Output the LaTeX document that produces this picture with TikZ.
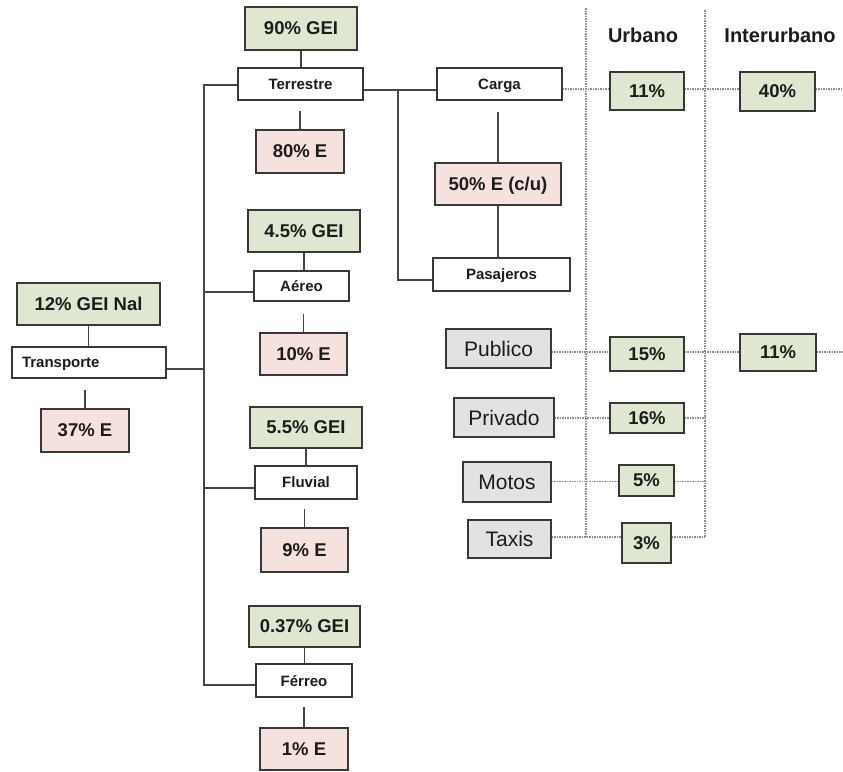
\documentclass[tikz,border=0pt]{standalone}
\usepackage{fontspec}
\setmainfont{Liberation Sans}
\usetikzlibrary{calc}

\definecolor{geifill}{HTML}{DFE7D1}
\definecolor{efill}{HTML}{F5E2DF}
\definecolor{modefill}{HTML}{E2E2E2}
\definecolor{boxline}{HTML}{383838}
\definecolor{linkline}{HTML}{454545}
\definecolor{dotline}{HTML}{8C8C8C}
\definecolor{ink}{HTML}{1C1C1C}

\tikzset{
  base/.style={draw=boxline, rectangle, inner sep=0pt, text=ink, text depth=0pt},
  geibox/.style={base, fill=geifill, line width=1.7pt, font=\fontsize{18.5}{20}\selectfont\bfseries},
  ebox/.style={base, fill=efill, line width=1.7pt, font=\fontsize{18.5}{20}\selectfont\bfseries},
  catbox/.style={base, fill=white, line width=1.3pt, font=\fontsize{15}{17}\selectfont\bfseries},
  modebox/.style={base, fill=modefill, line width=1.7pt, font=\fontsize{21}{23}\selectfont},
  pctbox/.style={base, fill=geifill, line width=1.7pt, font=\fontsize{18.5}{20}\selectfont\bfseries},
  header/.style={text=ink, inner sep=0pt, font=\fontsize{20}{22}\selectfont\bfseries},
  link/.style={draw=linkline, line width=1.5pt},
  dotlink/.style={draw=dotline, line width=1.4pt, dash pattern=on 1.6pt off 0.9pt},
  sz/.style n args={2}{minimum width=#1pt, minimum height=#2pt},
}

\begin{document}
\begin{tikzpicture}[x=1pt, y=-1pt]
\useasboundingbox (0,0) rectangle (843,771);

% --- root ---
\node[geibox, sz={143}{42}] (g0) at (88.5,304) {12\% GEI Nal};
\node[catbox, sz={154}{31}, text width=134pt, align=left, inner xsep=10pt] (transp) at (89,362.5) {Transporte};
\node[ebox, sz={88}{43}] (e0) at (85,430.5) {37\% E};

% --- modes ---
\node[geibox, sz={112}{43}] (g1) at (301,28.5) {90\% GEI};
\node[catbox, sz={125}{32}] (terr) at (300.5,84) {Terrestre};
\node[ebox, sz={88}{43}] (e1) at (300,151.5) {80\% E};

\node[geibox, sz={112}{42}] (g2) at (304,231) {4.5\% GEI};
\node[catbox, sz={95}{30}] (aereo) at (301.5,286) {Aéreo};
\node[ebox, sz={87}{42}] (e2) at (303.5,354) {10\% E};

\node[geibox, sz={112}{41}] (g3) at (306,427.5) {5.5\% GEI};
\node[catbox, sz={102}{33}] (fluv) at (306,482.5) {Fluvial};
\node[ebox, sz={87}{44}] (e3) at (304.5,550) {9\% E};

\node[geibox, sz={111}{41}] (g4) at (304.5,626.5) {0.37\% GEI};
\node[catbox, sz={96}{33}] (ferr) at (304,680.5) {Férreo};
\node[ebox, sz={88}{42}] (e4) at (304,749) {1\% E};

% --- land transport split ---
\node[catbox, sz={125}{32}] (carga) at (499.5,84) {Carga};
\node[ebox, sz={126}{42}] (e5) at (498,184) {50\% E (c/u)};
\node[catbox, sz={137}{33}] (pasaj) at (501.5,274.5) {Pasajeros};

% --- passenger modes ---
\node[modebox, sz={105}{39}] (pub) at (498.5,348.5) {Publico};
\node[modebox, sz={100}{39}] (priv) at (504,417.5) {Privado};
\node[modebox, sz={88}{40}] (moto) at (507,482) {Motos};
\node[modebox, sz={83}{38}] (taxi) at (509.5,539) {Taxis};

% --- urban / interurban shares ---
\node[header] (hu) at (643,35) {Urbano};
\node[header] (hi) at (780,35) {Interurbano};

\node[pctbox, sz={74}{38}] (u1) at (647,91) {11\%};
\node[pctbox, sz={75}{39}] (i1) at (777.5,91.5) {40\%};
\node[pctbox, sz={74}{34}] (u2) at (647,354) {15\%};
\node[pctbox, sz={76}{37}] (i2) at (778,352.5) {11\%};
\node[pctbox, sz={74}{30}] (u3) at (647,418) {16\%};
\node[pctbox, sz={55}{31}] (u4) at (646.5,480.5) {5\%};
\node[pctbox, sz={49}{40}] (u5) at (646.5,543) {3\%};

% --- column separators, rows and free ends ---
\coordinate (uTop) at (586,8);
\coordinate (uBot) at (586,537);
\coordinate (iTop) at (705,10);
\coordinate (iBot) at (705,537);
\coordinate (edge1) at (843,89);
\coordinate (edge2) at (843,352);
\coordinate (trunk) at (204,85);
\coordinate (split) at (398,90);
\coordinate (rowPub) at (0,352);
\coordinate (rowPriv) at (0,418);
\coordinate (rowMoto) at (0,481.5);
\coordinate (rowTaxi) at (0,537);

% --- solid connectors ---
\draw[link] (g0.south) -- (g0.south |- transp.north);
\draw[link] (e0.north) -- ++(0,-18);
\draw[link] ([yshift=-6.5pt]transp.east) -- ([yshift=-6.5pt]transp.east -| trunk);

\draw[link] (terr.west |- trunk) -- (trunk) |- ([yshift=-4.5pt]ferr.west);
\draw[link] ([yshift=-6pt]aereo.west) -- ([yshift=-6pt]aereo.west -| trunk);
\draw[link] ([yshift=-5.5pt]fluv.west) -- ([yshift=-5.5pt]fluv.west -| trunk);

\draw[link] (g1.south) -- (g1.south |- terr.north);
\draw[link] (e1.north) -- ++(0,-18);
\draw[link] (g2.south) -- (g2.south |- aereo.north);
\draw[link] (e2.north) -- ++(0,-18);
\draw[link] (g3.south) -- (g3.south |- fluv.north);
\draw[link] (e3.north) -- ++(0,-18);
\draw[link] (g4.south) -- (g4.south |- ferr.north);
\draw[link] (e4.north) -- ++(0,-20);

\draw[link] (terr.east |- split) -- (carga.west |- split);
\draw[link] (split) |- ([yshift=-5.5pt]pasaj.west);
\draw[link] (e5.north) -- ++(0,-50);
\draw[link] (e5.south) -- (e5.south |- pasaj.north);

% --- dotted connectors ---
\draw[dotlink] (uTop) -- (uBot);
\draw[dotlink] (iTop) -- (iBot);

\draw[dotlink] (carga.east |- edge1) -- (u1.west |- edge1);
\draw[dotlink] (u1.east |- edge1) -- (i1.west |- edge1);
\draw[dotlink] (i1.east |- edge1) -- (edge1);

\draw[dotlink] (pub.east |- rowPub) -- (u2.west |- rowPub);
\draw[dotlink] (u2.east |- rowPub) -- (i2.west |- rowPub);
\draw[dotlink] (i2.east |- rowPub) -- (edge2);

\draw[dotlink] (priv.east |- rowPriv) -- (u3.west |- rowPriv);
\draw[dotlink] (u3.east |- rowPriv) -- (iBot |- rowPriv);
\draw[dotlink] (moto.east |- rowMoto) -- (u4.west |- rowMoto);
\draw[dotlink] (u4.east |- rowMoto) -- (iBot |- rowMoto);
\draw[dotlink] (taxi.east |- rowTaxi) -- (u5.west |- rowTaxi);
\draw[dotlink] (u5.east |- rowTaxi) -- (iBot);

\end{tikzpicture}
\end{document}
